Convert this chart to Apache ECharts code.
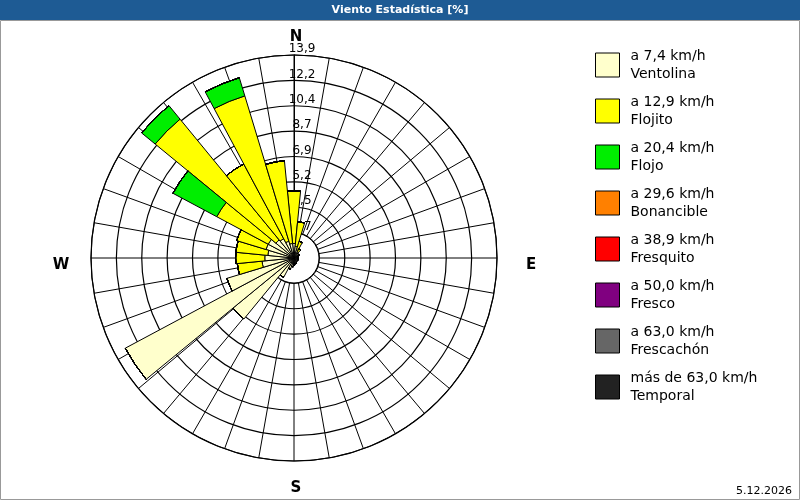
<!DOCTYPE html>
<html><head><meta charset="utf-8">
<script src="https://cdn.jsdelivr.net/npm/echarts@6/dist/echarts.min.js"></script>
<style>html,body{margin:0;padding:0;background:#fff}#c{width:800px;height:500px}</style>
</head><body><div id="c"></div>
<script>
const directions = Array.from({length:32},(_,i)=>String(i));
const ventolina = [1.0,0.8,0.6,0.5,0.4,0.4,0.3,0.3,0.3,0.3,0.3,0.3,0.3,0.3,0.4,0.4,0.5,0.6,0.8,1.5,5.4,13.1,4.8,2.2,2.0,1.8,2.0,2.0,1.6,1.5,1.2,1.0];
const flojito = [3.6,1.7,0.6,0.2,0,0,0,0,0,0,0,0,0,0,0,0,0,0,0,0,0,0,0,1.7,2.0,2.2,2.1,4.0,10.7,5.8,10.4,5.7];
const flojo = [0,0,0,0,0,0,0,0,0,0,0,0,0,0,0,0,0,0,0,0,0,0,0,0,0,0,0,3.4,1.2,0,1.3,0];
const zeros = directions.map(()=>0);
const ringLabels = ['','1,7','3,5','5,2','6,9','8,7','10,4','12,2','13,9'];
const classes = [
 ['a 7,4 km/h','Ventolina','#ffffcc',ventolina],
 ['a 12,9 km/h','Flojito','#ffff00',flojito],
 ['a 20,4 km/h','Flojo','#00ee00',flojo],
 ['a 29,6 km/h','Bonancible','#ff8000',zeros],
 ['a 38,9 km/h','Fresquito','#ff0000',zeros],
 ['a 50,0 km/h','Fresco','#800080',zeros],
 ['a 63,0 km/h','Frescachón','#666666',zeros],
 ['más de 63,0 km/h','Temporal','#222222',zeros]
];
const F = 'Tahoma, "DejaVu Sans", sans-serif';
const chart = echarts.init(document.getElementById('c'));
const names = classes.map(c=>c[0]+'\n'+c[1]);
chart.setOption({
 animation:false,
 polar:[{center:[294,258],radius:203},{center:[294,258],radius:203}],
 angleAxis:[
  {polarIndex:0,type:'category',data:directions,startAngle:90+5.625,clockwise:true,boundaryGap:true,
   axisLine:{show:false},axisTick:{show:false},axisLabel:{show:false},splitLine:{show:false}},
  {polarIndex:1,type:'value',min:0,max:360,interval:10,startAngle:90,clockwise:true,
   axisLine:{show:true,lineStyle:{color:'#000'}},axisTick:{show:false},axisLabel:{show:false},
   splitLine:{show:true,lineStyle:{color:'#000',width:1}},z:0}
 ],
 radiusAxis:[
  {polarIndex:0,type:'value',min:0,max:13.9,show:false,splitLine:{show:false}},
  {polarIndex:1,type:'value',min:0,max:13.9,interval:13.9/8,
   axisLine:{show:true,lineStyle:{color:'#000'}},axisTick:{show:false},
   axisLabel:{show:true,color:'#000',fontFamily:F,fontSize:12,margin:-8,verticalAlign:'bottom',align:'center',
     formatter:(v)=>ringLabels[Math.round(v/(13.9/8))]||''},
   splitLine:{show:true,lineStyle:{color:'#000',width:1.2}},z:0}
 ],
 legend:{orient:'vertical',left:590,top:42,itemWidth:24,itemHeight:24,itemGap:10,
   data:names,textStyle:{fontFamily:F,fontSize:14,color:'#000',lineHeight:18,padding:[0,0,0,6]},
   icon:'rect',itemStyle:{borderColor:'#000',borderWidth:1},selectedMode:false},
 graphic:[
  {type:'rect',shape:{x:0,y:0,width:800,height:20},style:{fill:'#1e5b94'},z:10},
  {type:'text',x:400,y:10,style:{text:'Viento Estadística [%]',fill:'#fff',font:'bold 11px '+F,align:'center',verticalAlign:'middle'},z:11},
  {type:'rect',shape:{x:0.5,y:20.5,width:799,height:479},style:{fill:'none',stroke:'#999'},z:10},
  {type:'circle',shape:{cx:294,cy:258,r:25},style:{fill:'#fff',stroke:'#000'},z:1},
  {type:'text',x:296,y:37,style:{text:'N',fill:'#000',font:'bold 15px '+F,align:'center',verticalAlign:'middle'}},
  {type:'text',x:296,y:488,style:{text:'S',fill:'#000',font:'bold 15px '+F,align:'center',verticalAlign:'middle'}},
  {type:'text',x:61,y:265,style:{text:'W',fill:'#000',font:'bold 15px '+F,align:'center',verticalAlign:'middle'}},
  {type:'text',x:531,y:265,style:{text:'E',fill:'#000',font:'bold 15px '+F,align:'center',verticalAlign:'middle'}},
  {type:'text',x:792,y:491,style:{text:'5.12.2026',fill:'#000',font:'11px '+F,align:'right',verticalAlign:'middle'}}
 ],
 series:classes.map((c,i)=>({type:'bar',coordinateSystem:'polar',polarIndex:0,stack:'w',name:names[i],data:c[3],
   barWidth:'100%',barCategoryGap:'0%',itemStyle:{color:c[2],borderColor:'#000',borderWidth:1},z:2}))
});
</script></body></html>
